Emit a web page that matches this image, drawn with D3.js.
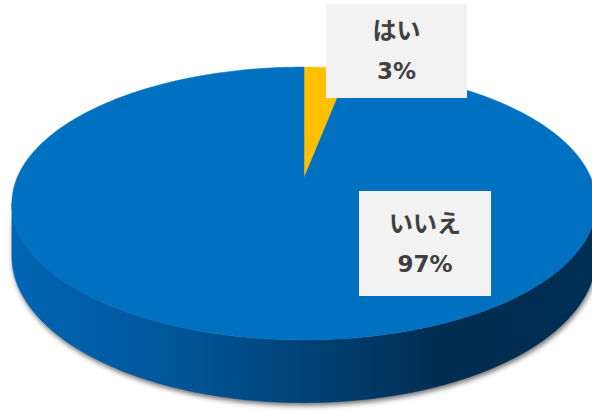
<!DOCTYPE html>
<html lang="ja">
  <head>
    <meta charset="UTF-8" />
    <title>3D Pie</title>
    <style>
      body {
        margin: 0;
        background: #ffffff;
      }
      svg {
        display: block;
      }
      .lbl {
        font-family: "Noto Sans CJK JP", "Noto Sans", sans-serif;
        font-weight: bold;
        font-size: 24px;
        fill: #404040;
      }
      .pct {
        font-family: "DejaVu Sans", sans-serif;
        font-weight: bold;
        font-size: 23px;
        fill: #404040;
      }
    </style>
  </head>
  <body>
    <svg width="592" height="412"></svg>
    <script src="https://d3js.org/d3.v7.min.js"></script>
    <script>
      // data
      const categories = ["はい", "いいえ"];
      const values = [3, 97];
      const colors = ["#FFC000", "#0070C0"];

      const svg = d3.select("svg");

      // perspective ellipse settings
      const CX = 304, CY = 178;
      const KX = 287, KY = 131.7, P = -0.1868, DEPTH = 51;

      // theta clockwise from 12 o'clock
      function proj(theta, drop) {
        const u = Math.sin(theta), v = -Math.cos(theta);
        const w = 1 + P * v;
        return [CX + (KX * u) / w, CY + (KY * v + drop) / w];
      }

      function arcPoints(a0, a1, drop) {
        const n = Math.max(2, Math.ceil(((a1 - a0) / (2 * Math.PI)) * 240));
        return d3.range(n + 1).map((i) => proj(a0 + ((a1 - a0) * i) / n, drop));
      }

      const pie = d3.pie().sort(null).startAngle(0).endAngle(2 * Math.PI);
      const arcs = pie(values);

      const defs = svg.append("defs");
      const grad = defs
        .append("linearGradient")
        .attr("id", "side")
        .attr("gradientUnits", "userSpaceOnUse")
        .attr("x1", CX - KX)
        .attr("x2", CX + KX)
        .attr("y1", 0)
        .attr("y2", 0);
      [
        [0, "#0065b3"],
        [0.3, "#005496"],
        [0.55, "#003e6e"],
        [0.75, "#002c4f"],
        [1, "#002f55"],
      ].forEach((s) => grad.append("stop").attr("offset", s[0]).attr("stop-color", s[1]));

      const sideGrads = {
        "#0070C0": "url(#side)",
        "#FFC000": "#b08400",
      };

      defs
        .append("filter")
        .attr("id", "shadow")
        .attr("x", "-10%")
        .attr("y", "-10%")
        .attr("width", "120%")
        .attr("height", "130%")
        .append("feGaussianBlur")
        .attr("stdDeviation", 2.5);

      const line = d3.line();

      // front side visible between the two silhouette tangents
      const tR = Math.acos(P), tL = 2 * Math.PI - Math.acos(P);

      const sides = [];
      arcs.forEach((d, i) => {
        const a0 = Math.max(d.startAngle, tR);
        const a1 = Math.min(d.endAngle, tL);
        if (a1 > a0) {
          const top = arcPoints(a0, a1, 0);
          const bot = arcPoints(a0, a1, DEPTH).reverse();
          sides.push({ pts: top.concat(bot), color: colors[i] });
        }
      });

      // shadow under the side
      svg
        .append("g")
        .attr("filter", "url(#shadow)")
        .attr("transform", "translate(1,3)")
        .selectAll("path")
        .data(sides)
        .join("path")
        .attr("d", (d) => line(d.pts) + "Z")
        .attr("fill", "#000")
        .attr("fill-opacity", 0.55);

      svg
        .append("g")
        .selectAll("path")
        .data(sides)
        .join("path")
        .attr("d", (d) => line(d.pts) + "Z")
        .attr("fill", (d) => sideGrads[d.color])
        .attr("stroke", (d) => sideGrads[d.color])
        .attr("stroke-width", 0.5);

      // top faces
      svg
        .append("g")
        .selectAll("path")
        .data(arcs)
        .join("path")
        .attr("d", (d) => line([[CX, CY]].concat(arcPoints(d.startAngle, d.endAngle, 0))) + "Z")
        .attr("fill", (d, i) => colors[i])
        .attr("stroke", (d, i) => colors[i])
        .attr("stroke-width", 0.5);

      // data labels
      const labelBoxes = [
        { x: 326, y: 4, w: 141, h: 94 },
        { x: 359, y: 191, w: 132, h: 105 },
      ];
      const total = d3.sum(values);

      const lab = svg
        .append("g")
        .selectAll("g")
        .data(arcs)
        .join("g")
        .attr("transform", (d, i) => `translate(${labelBoxes[i].x},${labelBoxes[i].y})`);

      lab
        .append("rect")
        .attr("width", (d, i) => labelBoxes[i].w)
        .attr("height", (d, i) => labelBoxes[i].h)
        .attr("fill", "#F2F2F2");

      lab
        .append("text")
        .attr("class", "lbl")
        .attr("text-anchor", "middle")
        .attr("x", (d, i) => labelBoxes[i].w / 2)
        .attr("y", (d, i) => labelBoxes[i].h / 2 - 20)
        .attr("dy", "0.35em")
        .text((d, i) => categories[i]);

      lab
        .append("text")
        .attr("class", "pct")
        .attr("text-anchor", "middle")
        .attr("x", (d, i) => labelBoxes[i].w / 2)
        .attr("y", (d, i) => labelBoxes[i].h / 2 + 20)
        .attr("dy", "0.35em")
        .text((d) => Math.round((d.value / total) * 100) + "%");
    </script>
  </body>
</html>
